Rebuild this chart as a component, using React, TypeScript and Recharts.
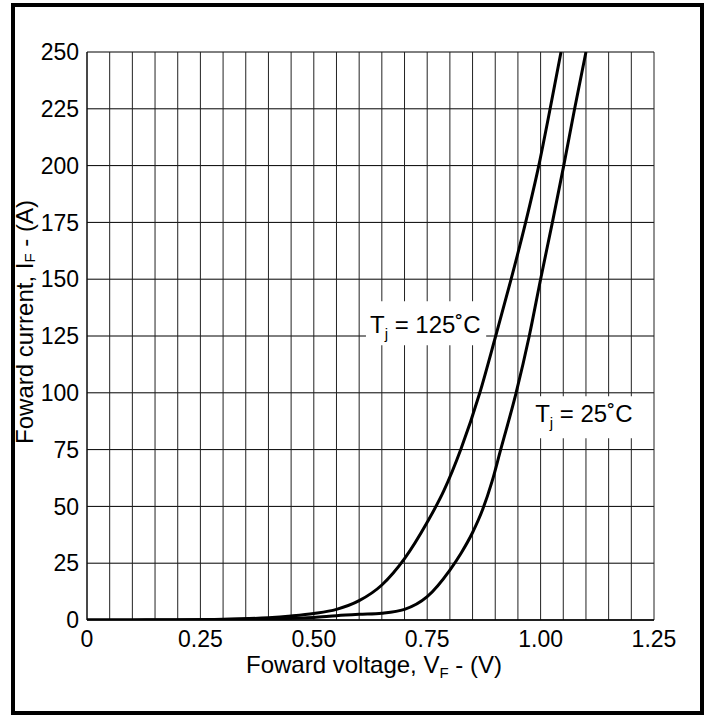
import React from "react";
import {
  LineChart,
  Line,
  XAxis,
  YAxis,
  CartesianGrid,
  ReferenceArea,
} from "recharts";

// Forward voltage (V) -> forward current (A), Tj = 125 °C
const tj125 = [
  { v: 0, i: 0 },
  { v: 0.1, i: 0.05 },
  { v: 0.2, i: 0.1 },
  { v: 0.3, i: 0.3 },
  { v: 0.4, i: 1.0 },
  { v: 0.45, i: 1.8 },
  { v: 0.5, i: 2.9 },
  { v: 0.55, i: 4.7 },
  { v: 0.6, i: 8.5 },
  { v: 0.65, i: 15.4 },
  { v: 0.7, i: 27 },
  { v: 0.75, i: 43 },
  { v: 0.787, i: 57 },
  { v: 0.824, i: 75 },
  { v: 0.866, i: 100 },
  { v: 0.901, i: 125 },
  { v: 0.935, i: 150 },
  { v: 0.967, i: 175 },
  { v: 0.996, i: 200 },
  { v: 1.021, i: 225 },
  { v: 1.045, i: 250 },
];

// Forward voltage (V) -> forward current (A), Tj = 25 °C
const tj25 = [
  { v: 0, i: 0 },
  { v: 0.2, i: 0.05 },
  { v: 0.3, i: 0.2 },
  { v: 0.4, i: 0.5 },
  { v: 0.5, i: 1.1 },
  { v: 0.55, i: 1.9 },
  { v: 0.6, i: 2.5 },
  { v: 0.65, i: 3.0 },
  { v: 0.7, i: 4.7 },
  { v: 0.75, i: 10.3 },
  { v: 0.8, i: 22 },
  { v: 0.825, i: 29.5 },
  { v: 0.85, i: 38.5 },
  { v: 0.872, i: 48.5 },
  { v: 0.893, i: 61 },
  { v: 0.912, i: 75 },
  { v: 0.946, i: 100 },
  { v: 0.975, i: 125 },
  { v: 1.0, i: 150 },
  { v: 1.026, i: 175 },
  { v: 1.051, i: 200 },
  { v: 1.075, i: 225 },
  { v: 1.1, i: 250 },
];

const xGridTicks = [
  0, 0.05, 0.1, 0.15, 0.2, 0.25, 0.3, 0.35, 0.4, 0.45, 0.5, 0.55, 0.6, 0.65,
  0.7, 0.75, 0.8, 0.85, 0.9, 0.95, 1.0, 1.05, 1.1, 1.15, 1.2, 1.25,
];
const xLabelValues = [0, 0.25, 0.5, 0.75, 1.0, 1.25];
const xLabelTexts = ["0", "0.25", "0.50", "0.75", "1.00", "1.25"];
const yTicks = [0, 25, 50, 75, 100, 125, 150, 175, 200, 225, 250];

// annotation boxes (data units)
const box125 = { x1: 0.615, x2: 0.88, y1: 120.9, y2: 140.3 };
const box25 = { x1: 0.977, x2: 1.23, y1: 80.0, y2: 98.5 };

const FONT = "'Liberation Sans', Arial, Helvetica, sans-serif";

const xTickFormatter = (v: number) => {
  const idx = xLabelValues.findIndex((t) => Math.abs(t - v) < 1e-6);
  return idx >= 0 ? xLabelTexts[idx] : "";
};

const makeTjLabel = (temp: string, dx: number, dyBase: number) => (props: any) => {
  const vb = props.viewBox || {};
  const x = (vb.x || 0) + dx;
  const y = (vb.y || 0) + dyBase;
  return (
    <text x={x} y={y} fontSize={24} fontFamily={FONT} fill="#000">
      T
      <tspan fontSize={15} dy={6}>
        j
      </tspan>
      <tspan dy={-6}>{` = ${temp}˚C`}</tspan>
    </text>
  );
};

const XLabel = () => (
  <text x={374} y={673} textAnchor="middle" fontSize={24} fontFamily={FONT} fill="#000">
    Foward voltage, V
    <tspan fontSize={15} dy={5}>
      F
    </tspan>
    <tspan dy={-5}> - (V)</tspan>
  </text>
);

const YLabel = () => {
  const cx = 24;
  const cy = 322;
  return (
    <text
      x={cx}
      y={cy}
      transform={`rotate(-90 ${cx} ${cy})`}
      textAnchor="middle"
      dominantBaseline="central"
      fontSize={24}
      fontFamily={FONT}
      fill="#000"
    >
      Foward current, I
      <tspan fontSize={15} dy={5}>
        F
      </tspan>
      <tspan dy={-5}> - (A)</tspan>
    </text>
  );
};

export default function App() {
  return (
    <div
      style={{
        position: "absolute",
        left: 0,
        top: 0,
        width: 710,
        height: 718,
        background: "#fff",
      }}
    >
      <div
        style={{
          position: "absolute",
          left: 11,
          top: 3,
          width: 693,
          height: 712,
          border: "4px solid #000",
          boxSizing: "border-box",
        }}
      />
      <div style={{ position: "absolute", left: 0, top: 0 }}>
        <LineChart
          width={710}
          height={718}
          margin={{ top: 52, right: 56, bottom: 58, left: 0 }}
        >
          <CartesianGrid vertical={false} stroke="#000" strokeWidth={1} />
          <CartesianGrid horizontal={false} stroke="#222" strokeWidth={1} />
          <XAxis
            type="number"
            dataKey="v"
            domain={[0, 1.25]}
            ticks={xGridTicks}
            interval={0}
            tickFormatter={xTickFormatter}
            tickLine={false}
            tickMargin={5}
            height={40}
            axisLine={{ stroke: "#000", strokeWidth: 1.5 }}
            tick={{ fill: "#000", fontSize: 23, fontFamily: FONT }}
            allowDataOverflow
            label={{ content: XLabel }}
          />
          <YAxis
            type="number"
            dataKey="i"
            domain={[0, 250]}
            ticks={yTicks}
            interval={0}
            width={87}
            tickLine={false}
            axisLine={{ stroke: "#000", strokeWidth: 1 }}
            tick={{ fill: "#000", fontSize: 23, fontFamily: FONT }}
            allowDataOverflow
            label={{ content: YLabel }}
          />
          <Line
            data={tj125}
            dataKey="i"
            type="monotone"
            stroke="#000"
            strokeWidth={3}
            dot={false}
            isAnimationActive={false}
          />
          <Line
            data={tj25}
            dataKey="i"
            type="monotone"
            stroke="#000"
            strokeWidth={3}
            dot={false}
            isAnimationActive={false}
          />
          <ReferenceArea
            x1={box125.x1}
            x2={box125.x2}
            y1={box125.y1}
            y2={box125.y2}
            fill="#fff"
            fillOpacity={1}
            stroke="none"
            label={{ content: makeTjLabel("125", 4, 32) }}
          />
          <ReferenceArea
            x1={box25.x1}
            x2={box25.x2}
            y1={box25.y1}
            y2={box25.y2}
            fill="#fff"
            fillOpacity={1}
            stroke="none"
            label={{ content: makeTjLabel("25", 5, 26) }}
          />
        </LineChart>
      </div>
    </div>
  );
}
